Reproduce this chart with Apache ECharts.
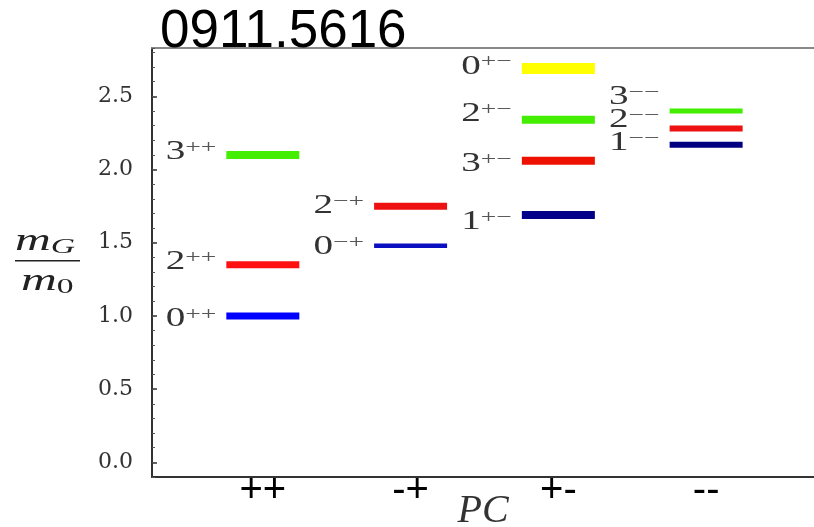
<!DOCTYPE html>
<html>
<head>
<meta charset="utf-8">
<script src="https://cdn.jsdelivr.net/npm/echarts@6/dist/echarts.min.js"></script>
<style>
  html, body { margin: 0; padding: 0; background: #fff; }
  #chart { width: 814px; height: 527px; }
</style>
</head>
<body>
<div id="chart"></div>
<script>
// Glueball mass spectrum, grouped by PC quantum numbers
const categories = ['++', '-+', '+-', '--'];
const levelGroup = [0, 0, 0, 1, 1, 2, 2, 2, 2, 3, 3, 3];
const levelSpin  = ['0', '2', '3', '2', '0', '0', '2', '3', '1', '3', '2', '1'];
const levelPC    = ['++', '++', '++', '\u2212+', '\u2212+', '+\u2212', '+\u2212', '+\u2212', '+\u2212', '\u2212\u2212', '\u2212\u2212', '\u2212\u2212'];
const levelMass  = [1.00, 1.35, 2.10, 1.75, 1.48, 2.69, 2.34, 2.06, 1.69, 2.40, 2.28, 2.17];
const yTicks     = [0.0, 0.5, 1.0, 1.5, 2.0, 2.5];

// styling per level
const levelColor = ['#0000ff', '#ff1111', '#44ee00', '#ee1111', '#0a10c0', '#ffff00',
                    '#44ee00', '#ee1100', '#000088', '#44ee00', '#ee1111', '#000080'];
const levelThick = [7, 7, 8, 7, 4.5, 11, 8, 8, 8, 5, 6, 6];
const labelShift = [3, -2.5, -3, 0, 1, -2, -6, 3, 7, -14, -9, -2];
const HALF = 0.247;        // half length of a level bar, in x units
const SERIF = 'Liberation Serif, Times New Roman, serif';
const STRETCH = 1.45;      // horizontal stretch of the math-style labels

const chart = echarts.init(document.getElementById('chart'), null, { renderer: 'canvas' });

const levels = levelMass.map((m, i) => [levelGroup[i] + 1, m]);

function renderLevel(params, api) {
  const i = params.dataIndex;
  const x = api.value(0), m = api.value(1);
  const a = api.coord([x - HALF, m]);
  const b = api.coord([x + HALF, m]);
  const h = levelThick[i];
  return {
    type: 'group',
    children: [
      {
        type: 'rect',
        shape: { x: a[0], y: a[1] - h / 2, width: b[0] - a[0], height: h },
        style: { fill: levelColor[i] }
      },
      {
        type: 'text',
        x: a[0] - 10,
        y: a[1] + labelShift[i],
        scaleX: STRETCH,
        style: {
          text: '{n|' + levelSpin[i] + '}{s|' + levelPC[i] + '}',
          align: 'right',
          verticalAlign: 'middle',
          rich: {
            n: { fontFamily: SERIF, fontSize: 27, lineHeight: 27, fill: '#333' },
            s: { fontFamily: SERIF, fontSize: 19, lineHeight: 17, verticalAlign: 'top', fill: '#555' }
          }
        }
      }
    ]
  };
}

const option = {
  animation: false,
  backgroundColor: '#fff',
  title: {
    text: '0911.5616',
    left: 160,
    top: 6,
    padding: 0,
    textStyle: { fontFamily: 'Liberation Sans, Arial, sans-serif', fontSize: 53, fontWeight: 'normal', color: '#000' }
  },
  grid: { left: 152, top: 48, right: 0, bottom: 50, containLabel: false, outerBoundsMode: 'none' },
  xAxis: [
    {
      type: 'value',
      min: 0.25,
      max: 4.73,
      interval: 0.25,
      name: 'PC',
      nameLocation: 'middle',
      nameGap: 14,
      nameMoveOverlap: false,
      nameTextStyle: { fontFamily: SERIF, fontStyle: 'italic', fontSize: 40, color: '#333' },
      axisLine: { show: true, onZero: false, lineStyle: { color: '#333', width: 2 } },
      axisTick: { show: false },
      splitLine: { show: false },
      axisLabel: {
        margin: -6,
        fontFamily: 'Liberation Sans, Arial, sans-serif',
        fontSize: 40,
        color: '#000',
        formatter: v => {
          const k = Math.round(v);
          return (Math.abs(v - k) < 1e-6 && k >= 1 && k <= categories.length) ? categories[k - 1] : '';
        }
      }
    },
    {
      type: 'value',
      position: 'top',
      min: 0.25,
      max: 4.73,
      axisLine: { show: true, onZero: false, lineStyle: { color: '#888', width: 2 } },
      axisTick: { show: false },
      axisLabel: { show: false },
      splitLine: { show: false }
    }
  ],
  yAxis: [
    {
      type: 'value',
      position: 'left',
      min: -0.1,
      max: 2.83,
      axisLine: { show: true, onZero: false, lineStyle: { color: '#333', width: 2 } },
      axisTick: { show: true, inside: true, length: 5, customValues: yTicks, lineStyle: { color: '#333', width: 1.5 } },
      axisLabel: {
        customValues: yTicks,
        margin: 19,
        fontFamily: 'DejaVu Serif, serif',
        fontSize: 22,
        color: '#333',
        formatter: v => v.toFixed(1)
      },
      splitLine: { show: false }
    },
    {
      type: 'value',
      position: 'left',
      offset: 0,
      min: -0.1,
      max: 2.83,
      interval: 0.1,
      axisLine: { show: false, onZero: false },
      axisTick: { show: true, inside: true, length: 3, lineStyle: { color: '#555', width: 1 } },
      axisLabel: { show: false },
      splitLine: { show: false }
    }
  ],
  graphic: [
    {
      type: 'group',
      left: 15,
      top: 226,
      children: [
        {
          type: 'text',
          x: 0, y: 0,
          scaleX: 1.6,
          style: {
            text: '{m|m}{sub|G}',
            rich: {
              m: { fontFamily: SERIF, fontStyle: 'italic', fontSize: 31, fill: '#222' },
              sub: { fontFamily: SERIF, fontStyle: 'italic', fontSize: 21, fill: '#222', padding: [12, 0, 0, 0] }
            }
          }
        },
        {
          type: 'rect',
          shape: { x: 0, y: 35, width: 65, height: 1.6 },
          style: { fill: '#222' }
        },
        {
          type: 'text',
          x: 6, y: 40,
          scaleX: 1.6,
          style: {
            text: '{m|m}{sub|0}',
            rich: {
              m: { fontFamily: SERIF, fontStyle: 'italic', fontSize: 31, fill: '#222' },
              sub: { fontFamily: SERIF, fontSize: 21, fill: '#222', padding: [12, 0, 0, 0] }
            }
          }
        }
      ]
    }
  ],
  series: [
    {
      type: 'custom',
      xAxisIndex: 0,
      yAxisIndex: 0,
      renderItem: renderLevel,
      encode: { x: 0, y: 1 },
      data: levels,
      clip: false
    }
  ]
};

chart.setOption(option);
</script>
</body>
</html>
